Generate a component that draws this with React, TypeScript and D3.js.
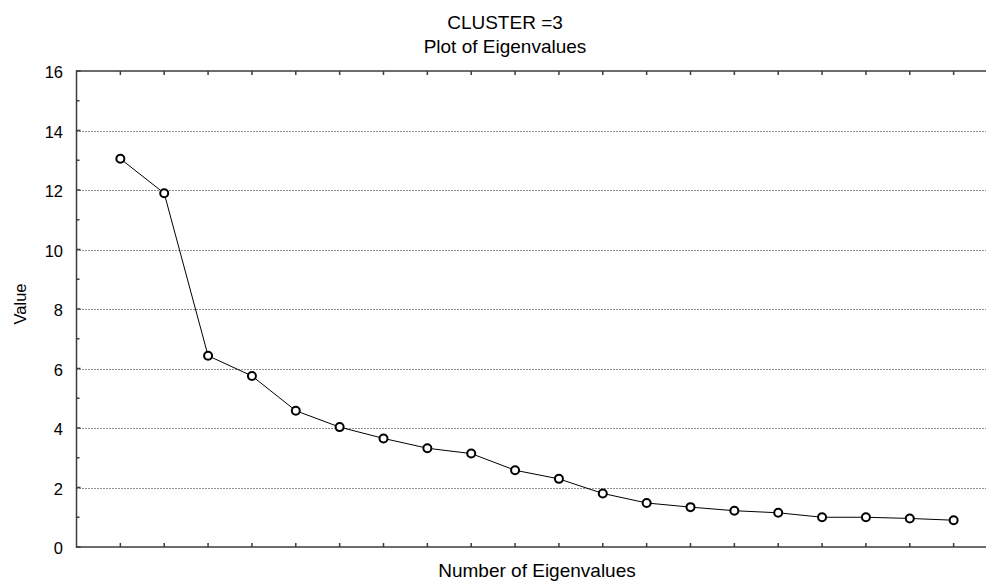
import React from "react";
import * as d3 from "d3";

// Eigenvalue index and value (scree plot)
const eigenIndex: number[] = [1, 2, 3, 4, 5, 6, 7, 8, 9, 10, 11, 12, 13, 14, 15, 16, 17, 18, 19, 20];
const eigenValues: number[] = [
  13.05, 11.89, 6.43, 5.75, 4.58, 4.03, 3.65, 3.32, 3.14, 2.58,
  2.29, 1.8, 1.48, 1.34, 1.22, 1.15, 1.0, 1.0, 0.96, 0.9,
];
const yTickLabels: number[] = [0, 2, 4, 6, 8, 10, 12, 14, 16];
const titleLines: string[] = ["CLUSTER =3", "Plot of Eigenvalues"];
const xAxisTitle = "Number of Eigenvalues";
const yAxisTitle = "Value";

const W = 986;
const H = 581;
const FONT = "'Liberation Sans', Arial, sans-serif";

export default function App() {
  const left = 76.5;
  const top = 71;
  const bottom = 547;
  const x = d3.scaleLinear().domain([0, 21]).range([left, 997.5]);
  const y = d3.scaleLinear().domain([0, 16]).range([bottom, top]);
  const right = x(21);

  const line = d3
    .line<number>()
    .x((_, i) => x(eigenIndex[i]))
    .y((v) => y(v));

  const minorTicks = d3.range(1, 16, 2);
  const axisColor = "#3c3c3c";

  return (
    <div style={{ position: "absolute", left: 0, top: 0 }}>
      <svg width={W} height={H} style={{ display: "block", background: "#fff" }}>
        {/* title */}
        {titleLines.map((t, i) => (
          <text
            key={t}
            x={505}
            y={28.5 + i * 24}
            textAnchor="middle"
            fontFamily={FONT}
            fontSize={19}
            fill="#000"
          >
            {t}
          </text>
        ))}

        {/* dotted gridlines */}
        {yTickLabels
          .filter((v) => v > 0 && v < 16)
          .map((v) => (
            <line
              key={"g" + v}
              x1={left}
              x2={right}
              y1={Math.round(y(v)) + 0.5}
              y2={Math.round(y(v)) + 0.5}
              stroke="#222"
              strokeWidth={1}
              strokeDasharray="1,2"
            />
          ))}

        {/* frame */}
        <rect
          x={left}
          y={top}
          width={right - left}
          height={bottom - top}
          fill="none"
          stroke={axisColor}
          strokeWidth={1.5}
        />

        {/* y ticks (inward) */}
        {yTickLabels.map((v) => (
          <line
            key={"yt" + v}
            x1={left}
            x2={left + 4}
            y1={y(v)}
            y2={y(v)}
            stroke={axisColor}
            strokeWidth={1.5}
          />
        ))}
        {minorTicks.map((v) => (
          <line
            key={"ym" + v}
            x1={left}
            x2={left + 3}
            y1={y(v)}
            y2={y(v)}
            stroke={axisColor}
            strokeWidth={1.5}
          />
        ))}

        {/* x ticks on top and bottom (inward) */}
        {eigenIndex.map((i) => (
          <g key={"xt" + i}>
            <line x1={x(i)} x2={x(i)} y1={top} y2={top + 4} stroke={axisColor} strokeWidth={1.5} />
            <line x1={x(i)} x2={x(i)} y1={bottom} y2={bottom - 4} stroke={axisColor} strokeWidth={1.5} />
          </g>
        ))}

        {/* y tick labels */}
        {yTickLabels.map((v) => (
          <text
            key={"yl" + v}
            x={63}
            y={y(v) + 7}
            textAnchor="end"
            fontFamily={FONT}
            fontSize={16.5}
            fill="#000"
          >
            {v}
          </text>
        ))}

        {/* axis titles */}
        <text
          x={x(10.5)}
          y={576.5}
          textAnchor="middle"
          fontFamily={FONT}
          fontSize={19}
          fill="#000"
        >
          {xAxisTitle}
        </text>
        <text
          transform={`translate(26,304) rotate(-90)`}
          textAnchor="middle"
          fontFamily={FONT}
          fontSize={16.5}
          fill="#000"
        >
          {yAxisTitle}
        </text>

        {/* series */}
        <path d={line(eigenValues) || ""} fill="none" stroke="#000" strokeWidth={1} />
        {eigenValues.map((v, i) => (
          <circle
            key={"p" + i}
            cx={x(eigenIndex[i])}
            cy={y(v)}
            r={4}
            fill="#fff"
            stroke="#000"
            strokeWidth={2}
          />
        ))}
      </svg>
    </div>
  );
}
